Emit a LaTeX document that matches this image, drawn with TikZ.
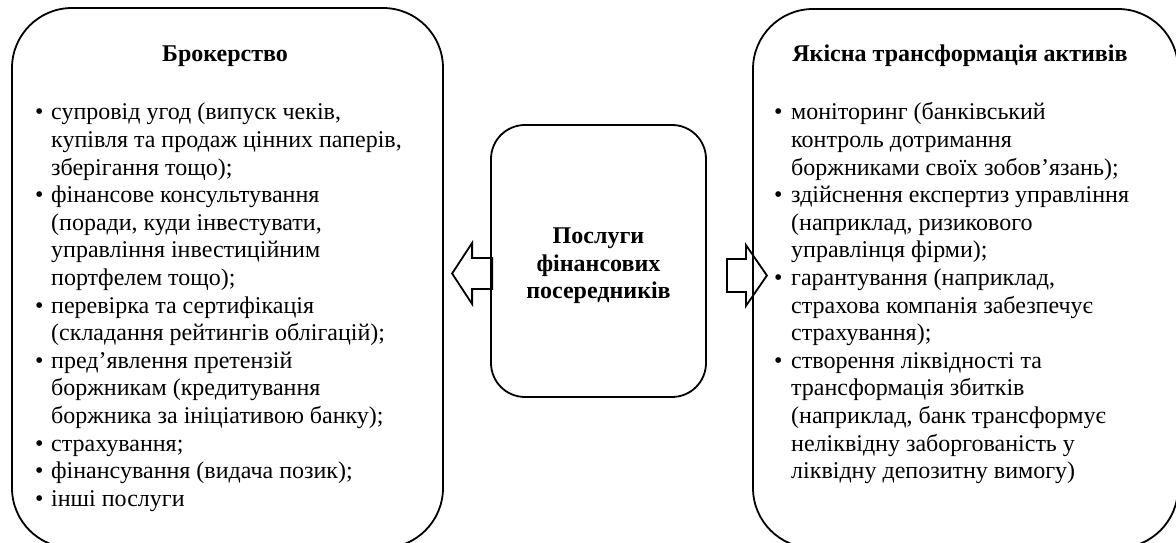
\documentclass[tikz,border=0pt]{standalone}
\usepackage{fontspec}
\setmainfont{Liberation Serif}

\tikzset{
  roundbox/.style={draw, line width=1.8pt, rounded corners=60pt, inner sep=0pt},
  midbox/.style={draw, line width=1.8pt, rounded corners=34pt, inner sep=0pt},
  blockarr/.style={draw, line width=1.8pt, line join=miter},
  listtext/.style={inner sep=0pt, anchor=base west, font=\fontsize{24}{27.6}\selectfont},
  headtext/.style={inner sep=0pt, anchor=base, font=\fontsize{24}{27.6}\selectfont\bfseries},
}

\begin{document}
\begin{tikzpicture}[x=1pt, y=1pt]
  \useasboundingbox (0,0) rectangle (1176,543);
  \clip (0,0) rectangle (1176,543);

  % boxes
  \node[roundbox, minimum width=431pt, minimum height=540pt] (brok) at (227.5,265) {};
  \node[roundbox, minimum width=425pt, minimum height=539pt] (akt) at (965.5,264.5) {};
  \node[midbox, minimum width=215pt, minimum height=272pt] (posl) at (598.5,282) {};

  % titles
  \node[headtext] (brokt) at (225,481) {Брокерство};
  \node[headtext] (aktt) at (960,481) {Якісна трансформація активів};
  \node[font=\fontsize{24}{27.6}\selectfont\bfseries, align=center, inner sep=0pt] (poslt) at (598.5,277) {Послуги\\фінансових\\посередників};

  % lists
  \node[listtext] (brokl) at (35,423) {\begin{tabular}[t]{@{}p{16pt}@{}l@{}}
    • & супровід угод (випуск чеків,\\
      & купівля та продаж цінних паперів,\\
      & зберігання тощо);\\
    • & фінансове консультування\\
      & (поради, куди інвестувати,\\
      & управління інвестиційним\\
      & портфелем тощо);\\
    • & перевірка та сертифікація\\
      & (складання рейтингів облігацій);\\
    • & пред’явлення претензій\\
      & боржникам (кредитування\\
      & боржника за ініціативою банку);\\
    • & страхування;\\
    • & фінансування (видача позик);\\
    • & інші послуги
  \end{tabular}};
  \node[listtext] (aktl) at (774,423) {\begin{tabular}[t]{@{}p{17pt}@{}l@{}}
    • & моніторинг (банківський\\
      & контроль дотримання\\
      & боржниками своїх зобов’язань);\\
    • & здійснення експертиз управління\\
      & (наприклад, ризикового\\
      & управлінця фірми);\\
    • & гарантування (наприклад,\\
      & страхова компанія забезпечує\\
      & страхування);\\
    • & створення ліквідності та\\
      & трансформація збитків\\
      & (наприклад, банк трансформує\\
      & неліквідну заборгованість у\\
      & ліквідну депозитну вимогу)
  \end{tabular}};

  % block arrows
  \draw[blockarr] ([xshift=2pt,yshift=3pt]posl.west) -- ++(-20,0) -- ++(0,15)
    -- ++(-20,-30.5) -- ++(20,-30.5) -- ++(0,15) -- ++(20,0) -- cycle;
  \draw[blockarr] ([xshift=20pt,yshift=2pt]posl.east) -- ++(19,0) -- ++(0,14)
    -- ++(21,-30.5) -- ++(-21,-30.5) -- ++(0,14) -- ++(-19,0) -- cycle;
\end{tikzpicture}
\end{document}
